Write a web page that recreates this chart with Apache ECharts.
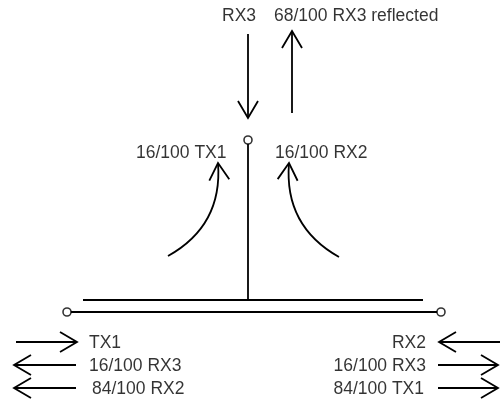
<!DOCTYPE html>
<html>
<head>
<meta charset="utf-8">
<script src="https://cdn.jsdelivr.net/npm/echarts@6/dist/echarts.min.js"></script>
<style>
  html, body { margin: 0; background: #fff; }
  #chart { width: 500px; height: 405px; }
</style>
</head>
<body>
<div id="chart"></div>
<script>
// diagram coordinates, in pixel-like units of the hidden axes (x 0..500, y 0..405 downward)
const labelText = ['RX3', '68/100 RX3 reflected', '16/100 TX1', '16/100 RX2', 'TX1', '16/100 RX3', '84/100 RX2', 'RX2', '16/100 RX3', '84/100 TX1'];
const labelX = [222, 274, 136, 275, 89, 89, 92, 426, 426, 424];
const labelY = [15, 15, 152, 152, 342, 365, 388, 342, 365, 388];
const labelSide = ['left', 'left', 'left', 'left', 'left', 'left', 'left', 'right', 'right', 'right'];

// plain wires: [x1, y1, x2, y2]
const wires = [
  [248, 144, 248, 300],
  [83, 300, 423, 300],
  [71, 312, 437, 312],
];
// open terminals
const nodes = [[248, 140], [67, 312], [441, 312]];
// straight arrows: [fromX, fromY, tipX, tipY]
const arrows = [
  [248, 34, 248, 118],
  [292, 113, 292, 31],
  [16, 342, 77, 342],
  [76, 365, 14, 365],
  [76, 388, 14, 388],
  [500, 342, 439, 342],
  [438, 365, 498, 365],
  [438, 388, 498, 388],
];
// curved arrows: [fromX, fromY, tipX, tipY, curveness]
const curves = [
  [168, 256, 218, 163, -0.32],
  [339, 257, 289, 163, 0.32],
];

(() => {
  const target = document.getElementById('chart');
  const chart = echarts.init(target, null, { renderer: 'canvas' });
  const ink = '#000';
  const headLen = 17, headHalf = 10;

  // open V head at the tip, pointing away from (ox, oy)
  const head = (ox, oy, tx, ty) => {
    const dx = tx - ox, dy = ty - oy, len = Math.hypot(dx, dy);
    const ux = dx / len, uy = dy / len;
    const bx = tx - ux * headLen, by = ty - uy * headLen;
    return [[bx - uy * headHalf, by + ux * headHalf], [tx, ty], [bx + uy * headHalf, by - ux * headHalf]];
  };

  const polylines = [];
  wires.forEach(([x1, y1, x2, y2]) => polylines.push({ coords: [[x1, y1], [x2, y2]] }));
  arrows.forEach(([x1, y1, x2, y2]) => {
    polylines.push({ coords: [[x1, y1], [x2, y2]] });
    polylines.push({ coords: head(x1, y1, x2, y2) });
  });
  // same control point the lines series uses for curveness
  curves.forEach(([x1, y1, x2, y2, c]) => {
    const cx = (x1 + x2) / 2 - (y1 - y2) * c, cy = (y1 + y2) / 2 - (x2 - x1) * c;
    polylines.push({ coords: head(cx, cy, x2, y2) });
  });

  chart.setOption({
    animation: false,
    grid: { left: 0, right: 0, top: 0, bottom: 0 },
    xAxis: { type: 'value', min: 0, max: 500, show: false },
    yAxis: { type: 'value', min: 0, max: 405, inverse: true, show: false },
    series: [
      {
        type: 'lines',
        coordinateSystem: 'cartesian2d',
        polyline: true,
        silent: true,
        lineStyle: { color: ink, width: 1.8, opacity: 1 },
        data: polylines,
      },
      {
        type: 'lines',
        coordinateSystem: 'cartesian2d',
        silent: true,
        lineStyle: { color: ink, width: 1.8, opacity: 1 },
        data: curves.map(([x1, y1, x2, y2, c]) => ({ coords: [[x1, y1], [x2, y2]], lineStyle: { curveness: c } })),
      },
      {
        type: 'scatter',
        silent: true,
        symbol: 'circle',
        symbolSize: 8,
        itemStyle: { color: '#fff', borderColor: ink, borderWidth: 1.6 },
        data: nodes,
        z: 3,
      },
      {
        type: 'scatter',
        silent: true,
        symbolSize: 1,
        itemStyle: { color: 'rgba(0,0,0,0)' },
        label: {
          show: true,
          position: 'inside',
          formatter: '{b}',
          color: ink,
          fontFamily: '"Liberation Sans", Arial, sans-serif',
          fontSize: 17.5,
          verticalAlign: 'middle',
        },
        data: labelText.map((name, i) => ({ name, value: [labelX[i], labelY[i] + 1], label: { align: labelSide[i] } })),
      },
    ],
  });

  new ResizeObserver(() => chart.resize()).observe(target);
})();
</script>
</body>
</html>
